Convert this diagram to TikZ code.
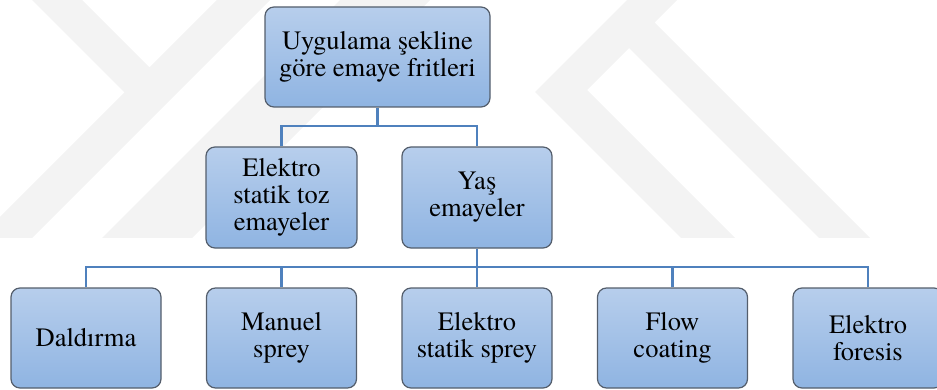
\documentclass[tikz,border=0pt]{standalone}
\usepackage{fontspec}
\setmainfont{texgyretermes}[Extension=.otf, UprightFont=*-regular, BoldFont=*-bold, ItalicFont=*-italic, BoldItalicFont=*-bolditalic]
\usetikzlibrary{calc}
\definecolor{wm}{RGB}{243,243,243}
\definecolor{boxtop}{RGB}{183,206,236}
\definecolor{boxbot}{RGB}{143,180,226}
\definecolor{boxline}{RGB}{84,94,108}
\definecolor{conncol}{RGB}{79,129,189}
\tikzset{
  box/.style={draw=boxline, line width=1.2pt, rounded corners=9pt,
    top color=boxtop, bottom color=boxbot, align=center, inner sep=0pt,
    minimum height=100pt, minimum width=150pt,
    font=\rmfamily\fontsize{26.5}{27}\selectfont},
  conn/.style={draw=conncol, line width=2.6pt},
  mark wm/.style={fill=wm, draw=none}
}
\begin{document}
\begin{tikzpicture}[x=1pt,y=1pt]
\useasboundingbox (0,0) rectangle (937,-390);
\clip (0,0) rectangle (937,-390);
% watermark
\path[mark wm] (32,0) -- (82,0) -- (149.5,-67.5) -- (217,0) -- (270,0) -- (32,-238) -- (0,-238) -- (0,-217) -- (124.5,-92.5) -- cycle;
\path[mark wm] (340,0) -- (430,0) -- (192,-238) -- (102,-238) -- cycle;
\path[mark wm] (627,0) -- (677,0) -- (654.5,-22.5) -- (870,-238) -- (819,-238) -- (629,-48) -- (587,-90) -- (735,-238) -- (681,-238) -- (535,-92) -- cycle;
% nodes
\node[box, minimum width=225pt] (top) at (377.5,-57) {Uygulama şekline\\göre emaye fritleri};
\node[box, minimum width=151pt, minimum height=101pt] (m1) at (281.5,-197.5) {Elektro\\statik toz\\emayeler};
\node[box, minimum height=101pt] (m2) at (477,-197.5) {Yaş\\emayeler};
\node[box] (b1) at (86,-338) {Daldırma};
\node[box] (b2) at (281.5,-338) {Manuel\\sprey};
\node[box] (b3) at (477,-338) {Elektro\\statik sprey};
\node[box] (b4) at (672.5,-338) {Flow\\coating};
\node[box] (b5) at (868,-338) {Elektro\\foresis};
% connectors
\coordinate (j1) at (377.5,-126);
\coordinate (j2) at (477,-267);
\draw[conn] (top.south) -- (j1);
\draw[conn] (m1.north) |- (j1) -| (m2.north);
\draw[conn] (m2.south) -- (j2);
\draw[conn] (b1.north) |- (j2);
\draw[conn] (b2.north) |- (j2);
\draw[conn] (b3.north) -- (j2);
\draw[conn] (b4.north) |- (j2);
\draw[conn] (b5.north) |- (j2);
\end{tikzpicture}
\end{document}
